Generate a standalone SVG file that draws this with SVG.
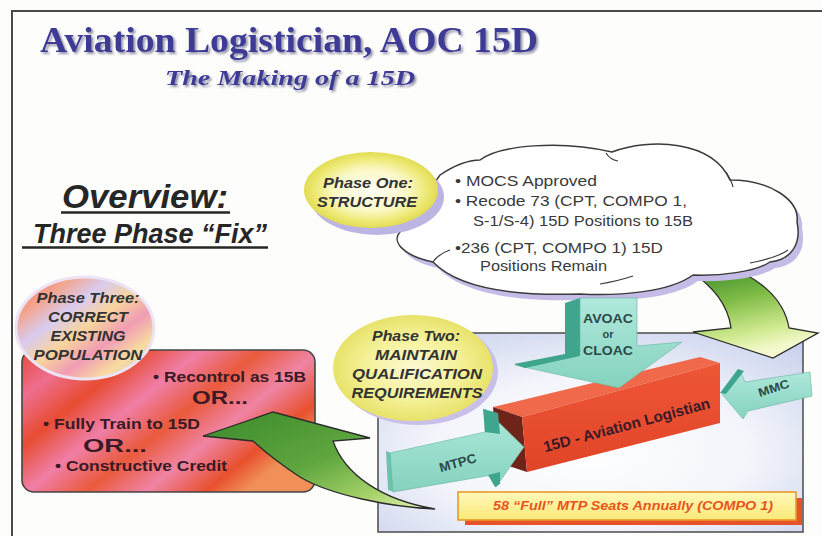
<svg xmlns="http://www.w3.org/2000/svg" width="822" height="536" viewBox="0 0 822 536">
<defs>
<style>
.ttl{font-family:"Liberation Serif","Times New Roman",serif;font-weight:bold;fill:#3d3a96;filter:url(#tsh)}
.ov{font-family:"Liberation Sans",Arial,sans-serif;font-weight:bold;font-style:italic;fill:#262626}
.ct{font-family:"Liberation Sans",Arial,sans-serif;font-size:14px;fill:#3a3a3a}
.ph{font-family:"Liberation Sans",Arial,sans-serif;font-weight:bold;font-style:italic;font-size:15px;fill:#333333;text-anchor:middle}
.teal{fill:url(#tealG);stroke:#66b4a0;stroke-width:0.6}
.tealdk{fill:#3fa58c}
.lbl{font-family:"Liberation Sans",Arial,sans-serif;font-weight:bold;fill:#2c4a48;text-anchor:middle}
.green{stroke:#2b2b2b;stroke-width:1.3}
.bt{font-family:"Liberation Sans",Arial,sans-serif;font-weight:bold;fill:#3a1a26}
.frame{stroke:#4a4a4a;stroke-width:2;fill:none}
</style>
<filter id="tsh" x="-5%" y="-20%" width="110%" height="150%">
<feDropShadow dx="2" dy="2" stdDeviation="0.8" flood-color="#7c7a94" flood-opacity="0.8"/>
</filter>
<radialGradient id="panelG" cx="0.5" cy="0.6" r="0.75">
<stop offset="0" stop-color="#ffffff"/><stop offset="0.5" stop-color="#f3f5fb"/><stop offset="1" stop-color="#c6cfec"/>
</radialGradient>
<radialGradient id="ph1G" cx="0.5" cy="0.5" r="0.5">
<stop offset="0" stop-color="#fffff6"/><stop offset="0.55" stop-color="#fbf8c6"/><stop offset="0.82" stop-color="#eeea78"/><stop offset="1" stop-color="#e2dc52"/>
</radialGradient>
<radialGradient id="ph2G" cx="0.5" cy="0.5" r="0.5">
<stop offset="0" stop-color="#fbf9d2"/><stop offset="0.6" stop-color="#f5f198"/><stop offset="1" stop-color="#e8e26a"/>
</radialGradient>
<linearGradient id="ph3G" x1="0" y1="0" x2="1" y2="1">
<stop offset="0" stop-color="#ee6a6a"/><stop offset="0.2" stop-color="#f4a48c"/><stop offset="0.35" stop-color="#d9cbef"/><stop offset="0.5" stop-color="#f8d49c"/><stop offset="0.65" stop-color="#f09cb4"/><stop offset="0.8" stop-color="#f8dca0"/><stop offset="1" stop-color="#c8b8e6"/>
</linearGradient>
<linearGradient id="box3G" x1="0" y1="0" x2="1" y2="0.6">
<stop offset="0" stop-color="#e8483a"/><stop offset="0.15" stop-color="#ee6e8e"/><stop offset="0.3" stop-color="#e84c32"/><stop offset="0.45" stop-color="#f07ea6"/><stop offset="0.6" stop-color="#ea5a3c"/><stop offset="0.75" stop-color="#ef84a4"/><stop offset="0.9" stop-color="#e8502e"/><stop offset="1" stop-color="#f09058"/>
</linearGradient>
<linearGradient id="tealG" x1="0" y1="0" x2="0" y2="1">
<stop offset="0" stop-color="#b0e9dc"/><stop offset="1" stop-color="#84d2be"/>
</linearGradient>
<linearGradient id="greenTR" x1="0" y1="0" x2="0.3" y2="1">
<stop offset="0" stop-color="#2f7f28"/><stop offset="0.45" stop-color="#7dbb45"/><stop offset="0.8" stop-color="#cfe98e"/><stop offset="1" stop-color="#f3f9cc"/>
</linearGradient>
<linearGradient id="greenBL" x1="0" y1="0" x2="1" y2="1">
<stop offset="0" stop-color="#3b8a2c"/><stop offset="0.5" stop-color="#5fa63e"/><stop offset="0.8" stop-color="#aad46c"/><stop offset="1" stop-color="#eef6c4"/>
</linearGradient>
<linearGradient id="redF" x1="0" y1="0" x2="0" y2="1">
<stop offset="0" stop-color="#ef5636"/><stop offset="1" stop-color="#e04428"/>
</linearGradient>
<linearGradient id="barG" x1="0" y1="0" x2="0" y2="1">
<stop offset="0" stop-color="#fff9ba"/><stop offset="1" stop-color="#fbe878"/>
</linearGradient>
</defs>

<rect x="0" y="0" width="822" height="536" fill="#fdfdfc"/>
<path class="frame" d="M12,536 L12,11 L822,11"/>

<g id="title">
<text class="ttl" x="40" y="52" font-size="36" textLength="498" lengthAdjust="spacingAndGlyphs">Aviation Logistician, AOC 15D</text>
<text class="ttl" x="165" y="85" font-size="22" font-style="italic" textLength="250" lengthAdjust="spacingAndGlyphs">The Making of a 15D</text>
</g>

<g id="overview">
<text class="ov" x="62" y="208" font-size="34" textLength="166" lengthAdjust="spacingAndGlyphs">Overview:</text>
<line x1="61" y1="212.5" x2="230" y2="212.5" stroke="#262626" stroke-width="2.5"/>
<text class="ov" x="33" y="243" font-size="27" textLength="234" lengthAdjust="spacingAndGlyphs">Three Phase “Fix”</text>
<line x1="22" y1="247.5" x2="268" y2="247.5" stroke="#262626" stroke-width="2.5"/>
</g>

<g id="phase-two-panel">
<rect x="378" y="333" width="425" height="199" fill="url(#panelG)" stroke="#555" stroke-width="1.6"/>
</g>

<g id="connectors">
<path id="arrow-cloud-to-mmc" class="green" fill="url(#greenTR)" d="M688,270 C712,285 728,305 731,328 L693,332 L773,358 L818,333 L789,328 C784,298 758,275 715,262 Z"/>
</g>

<g id="phase-one-cloud">
<path transform="translate(5,6)" fill="#c4bce6" d="M440,175 C455,165 470,160 480,160 C500,145 560,140 612,152 C650,138 712,140 730,180 C770,180 800,200 797,222 C802,245 790,260 770,262 C755,272 720,276 693,275 C670,292 620,296 580,294 C520,296 460,290 433,262 C400,255 392,240 400,232 Z"/>
<path fill="#ffffff" stroke="#3a3a3a" stroke-width="1.5" d="M440,175 C455,165 470,160 480,160 C500,145 560,140 612,152 C650,138 712,140 730,180 C770,180 800,200 797,222 C802,245 790,260 770,262 C755,272 720,276 693,275 C670,292 620,296 580,294 C520,296 460,290 433,262 C400,255 392,240 400,232 Z"/>
<path fill="none" stroke="#3a3a3a" stroke-width="1.2" d="M606,153 C609,158 613,160 618,161 M726,172 C729,177 732,182 733,187 M750,263 C765,260 780,256 788,250 M600,284 C612,282 624,279 633,276 M433,262 C437,256 444,252 450,250"/>
<text class="ct" x="455" y="186" textLength="142" lengthAdjust="spacingAndGlyphs">•  MOCS Approved</text>
<text class="ct" x="455" y="206" textLength="232" lengthAdjust="spacingAndGlyphs">• Recode 73 (CPT, COMPO 1,</text>
<text class="ct" x="473" y="226" textLength="220" lengthAdjust="spacingAndGlyphs">S-1/S-4) 15D Positions to 15B</text>
<text class="ct" x="455" y="253" textLength="208" lengthAdjust="spacingAndGlyphs">•236 (CPT, COMPO 1) 15D</text>
<text class="ct" x="480" y="271" textLength="127" lengthAdjust="spacingAndGlyphs">Positions Remain</text>
</g>

<g id="phase-one">
<ellipse cx="377" cy="197" rx="67" ry="38" fill="#bcb4e2"/>
<ellipse cx="371" cy="190" rx="67" ry="38" fill="url(#ph1G)"/>
<text class="ph" x="368" y="188" textLength="90" lengthAdjust="spacingAndGlyphs">Phase One:</text>
<text class="ph" x="367" y="207" textLength="100" lengthAdjust="spacingAndGlyphs">STRUCTURE</text>
</g>

<g id="block-15d">
<polygon points="493,407 700,357 720,363 522,417" fill="#f0694a"/>
<polygon points="493,407 522,417 527,472 497,462" fill="#6e2418"/>
<polygon points="522,417 720,363 720,423 527,472" fill="url(#redF)"/>
<text class="bt" x="628" y="430" font-size="15" text-anchor="middle" transform="rotate(-15 628 430)" textLength="172" lengthAdjust="spacingAndGlyphs">15D - Aviation Logistian</text>
</g>

<g id="avoac-arrow">
<polygon class="tealdk" points="565,303 580,298 580,352 565,355"/>
<polygon class="teal" points="580,298 637,298 637,346 682,342 619,388 515,365 580,352"/>
<polygon class="tealdk" points="514,364 565,354 580,351 580,356 525,368"/>
<text class="lbl" x="608" y="323" font-size="13" textLength="50" lengthAdjust="spacingAndGlyphs">AVOAC</text>
<text class="lbl" x="608" y="338" font-size="11">or</text>
<text class="lbl" x="608" y="355" font-size="13" textLength="50" lengthAdjust="spacingAndGlyphs">CLOAC</text>
</g>

<g id="mtpc-arrow">
<polygon fill="#6cc2ab" points="386,451 391,453 394,492 388,490"/>
<polygon class="teal" points="390,453 485,432 485,409 524,447 496,487 492,475 393,492"/>
<polygon class="tealdk" points="483,409 498,413 500,434 485,432"/>
<polygon class="tealdk" points="488,475 500,472 500,484 495,487"/>
<text class="lbl" x="459" y="467" font-size="13" transform="rotate(-16 459 467)" textLength="38" lengthAdjust="spacingAndGlyphs">MTPC</text>
</g>

<g id="mmc-arrow">
<polygon class="teal" points="722,394 740,370 745,382 810,372 812,396 748,411 743,419"/>
<polygon class="tealdk" points="720,393 738,369 744,371 726,394"/>
<text class="lbl" x="775" y="392" font-size="12" transform="rotate(-18 775 392)" textLength="32" lengthAdjust="spacingAndGlyphs">MMC</text>
</g>

<g id="mtp-seats">
<rect x="465" y="498" width="337" height="27" fill="#e8522a"/>
<rect x="458" y="492" width="338" height="28" fill="url(#barG)" stroke="#e89a28" stroke-width="1.6"/>
<text x="493" y="510" font-family="Liberation Sans, Arial, sans-serif" font-weight="bold" font-style="italic" font-size="13" fill="#e85420" textLength="280" lengthAdjust="spacingAndGlyphs">58 “Full” MTP Seats Annually (COMPO 1)</text>
</g>

<g id="phase-two">
<ellipse cx="418" cy="372" rx="80" ry="53" fill="#c8c0e8"/>
<ellipse cx="413" cy="368" rx="80" ry="53" fill="url(#ph2G)"/>
<text class="ph" x="416" y="341" textLength="88" lengthAdjust="spacingAndGlyphs">Phase Two:</text>
<text class="ph" x="416" y="360" textLength="82" lengthAdjust="spacingAndGlyphs">MAINTAIN</text>
<text class="ph" x="417" y="379" textLength="130" lengthAdjust="spacingAndGlyphs">QUALIFICATION</text>
<text class="ph" x="417" y="398" textLength="131" lengthAdjust="spacingAndGlyphs">REQUIREMENTS</text>
</g>

<g id="phase-three-box">
<rect x="22" y="350" width="293" height="142" rx="12" fill="url(#box3G)" stroke="#444" stroke-width="1.6"/>
<text class="bt" x="153" y="382" font-size="15" textLength="153" lengthAdjust="spacingAndGlyphs">•  Recontrol as 15B</text>
<text class="bt" x="192" y="404" font-size="19" textLength="56" lengthAdjust="spacingAndGlyphs">OR...</text>
<text class="bt" x="43" y="429" font-size="15" textLength="157" lengthAdjust="spacingAndGlyphs">•  Fully Train to 15D</text>
<text class="bt" x="83" y="452" font-size="19" textLength="64" lengthAdjust="spacingAndGlyphs">OR...</text>
<text class="bt" x="55" y="471" font-size="15" textLength="172" lengthAdjust="spacingAndGlyphs">•  Constructive Credit</text>
</g>

<g id="connectors-2">
<path id="arrow-phase2-to-phase3" class="green" fill="url(#greenBL)" d="M203,436 L273,412 L370,438 L333,441 C345,475 382,500 435,509 C390,507 330,495 300,477 C280,464 265,452 253,441 Z"/>
</g>

<g id="phase-three">
<ellipse cx="85" cy="328" rx="69" ry="51" fill="url(#ph3G)" stroke="#ece4f4" stroke-width="3"/>
<text class="ph" x="88" y="303" textLength="103" lengthAdjust="spacingAndGlyphs">Phase Three:</text>
<text class="ph" x="88" y="322" textLength="80" lengthAdjust="spacingAndGlyphs">CORRECT</text>
<text class="ph" x="88" y="341" textLength="75" lengthAdjust="spacingAndGlyphs">EXISTING</text>
<text class="ph" x="88" y="360" textLength="109" lengthAdjust="spacingAndGlyphs">POPULATION</text>
</g>
</svg>
